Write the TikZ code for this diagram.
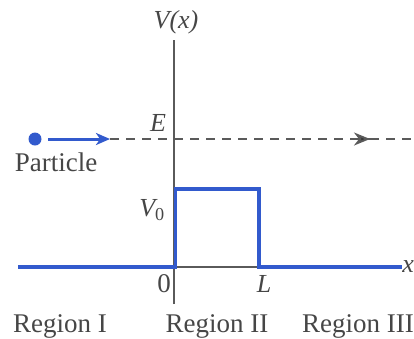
\documentclass[tikz,border=0pt]{standalone}
\usepackage{fontspec}
\setmainfont{Liberation Serif}
\usetikzlibrary{arrows.meta}
\definecolor{potblue}{RGB}{50,90,205}
\definecolor{axgray}{RGB}{90,90,90}
\definecolor{txtgray}{RGB}{70,70,70}
\tikzset{
  lbl/.style={text=txtgray, font=\fontsize{27}{30}\selectfont, inner sep=0pt},
  mlbl/.style={text=txtgray, font=\fontsize{26}{30}\selectfont\itshape, inner sep=0pt},
  axisline/.style={draw=axgray, line width=2pt},
  potline/.style={draw=potblue, line width=3.4pt},
  dashline/.style={draw=axgray, line width=2pt, dash pattern=on 9pt off 7pt},
}
\begin{document}
\begin{tikzpicture}[x=1pt,y=-1pt]
\useasboundingbox (0,0) rectangle (414,338);
% axes
\coordinate (ytop) at (174,40);
\coordinate (ybot) at (174,304);
\coordinate (o) at (174,267);
\coordinate (lx) at (260,267);
\draw[axisline] (ybot) -- (ytop);
\draw[axisline] (o) -- (lx);
% potential
\coordinate (left) at (18,267);
\coordinate (a) at (175.5,267);
\coordinate (b) at (175.5,189);
\coordinate (c) at (259,189);
\coordinate (d) at (259,267);
\coordinate (right) at (402,267);
\draw[potline, line join=miter] (left) -- (a) -- (b) -- (c) -- (d) -- (right);
% particle
\node[circle, fill=potblue, minimum size=13pt, inner sep=0pt] (dot) at (35,139) {};
\coordinate (atip) at (110,139);
\coordinate (astart) at (48,139);
\draw[potline, line width=3pt, -{Stealth[length=14pt,width=12pt,inset=4pt]}] (astart) -- (atip);
\coordinate (mid) at (370,139);
\coordinate (dend) at (414,139);
\draw[dashline] (atip) -- (mid);
\draw[draw=axgray, line width=2pt, -{Stealth[length=16pt,width=13pt,inset=5pt,fill=axgray!60!black]}] (358,139) -- (mid);
\draw[dashline] (mid) -- (dend);
% labels
\node[mlbl] (vx) at (176,22) {V(x)};
\node[mlbl] (E) at (158,123) {E};
\node[mlbl] (V0) at (152,210) {V\textsubscript{\upshape 0}};
\node[lbl] (zero) at (164,284) {0};
\node[mlbl] (L) at (264,284) {L};
\node[mlbl, anchor=east] (x) at (414,267) {x};
\node[lbl] (part) at (56,162) {Particle};
\node[lbl] (r1) at (60,326) {Region I};
\node[lbl] (r2) at (217,326) {Region II};
\node[lbl] (r3) at (358,326) {Region III};
\end{tikzpicture}
\end{document}
